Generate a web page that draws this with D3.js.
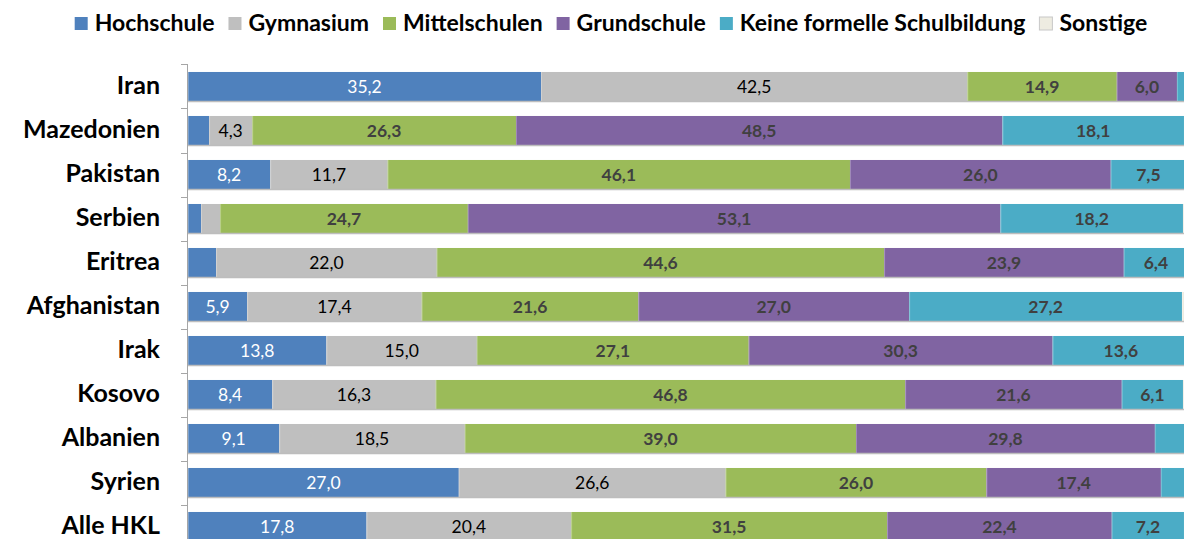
<!DOCTYPE html>
<html>
<head>
<meta charset="utf-8">
<script src="https://cdn.jsdelivr.net/npm/d3@7"></script>
<style>
  body { margin: 0; background: #fff; }
  svg { display: block; font-family: Lato, "Open Sans", sans-serif; }
</style>
</head>
<body>
<svg id="chart"></svg>
<script>
var width = 1184, height = 539;

// data, in percent
var countries = ["Iran", "Mazedonien", "Pakistan", "Serbien", "Eritrea", "Afghanistan",
  "Irak", "Kosovo", "Albanien", "Syrien", "Alle HKL"];
var levels = ["Hochschule", "Gymnasium", "Mittelschulen", "Grundschule",
  "Keine formelle Schulbildung", "Sonstige"];
var hochschule  = [35.2, 2.1, 8.2, 1.3, 2.8, 5.9, 13.8, 8.4, 9.1, 27.0, 17.8];
var gymnasium   = [42.5, 4.3, 11.7, 1.9, 22.0, 17.4, 15.0, 16.3, 18.5, 26.6, 20.4];
var mittel      = [14.9, 26.3, 46.1, 24.7, 44.6, 21.6, 27.1, 46.8, 39.0, 26.0, 31.5];
var grundschule = [6.0, 48.5, 26.0, 53.1, 23.9, 27.0, 30.3, 21.6, 29.8, 17.4, 22.4];
var keine       = [1.2, 18.1, 7.5, 18.2, 6.4, 27.2, 13.6, 6.1, 3.2, 2.5, 7.2];
var sonstige    = [0.2, 0.7, 0.5, 0.8, 0.3, 0.9, 0.2, 0.8, 0.4, 0.5, 0.7];

var series = [hochschule, gymnasium, mittel, grundschule, keine, sonstige];
var colors = ["#4F81BD", "#BFBFBF", "#9BBB59", "#8064A2", "#4BACC6", "#EEECE1"];
var labelColors = ["#ffffff", "#000000", "#404040", "#404040", "#404040", "#404040"];
var labelWeights = ["normal", "normal", "bold", "bold", "bold", "bold"];

var rows = countries.map(function(c, i) {
  var r = {country: c};
  levels.forEach(function(l, j) { r[l] = series[j][i]; });
  return r;
});

var svg = d3.select("#chart")
    .attr("width", width)
    .attr("height", height);

// the plot runs past the right edge, as in the picture
var x = d3.scaleLinear().domain([0, 100]).range([188, 1191]);
var y = d3.scaleBand().domain(countries).range([64.5, 548.5])
    .paddingInner(0.34).paddingOuter(0.17);

var stacked = d3.stack().keys(levels)(rows);

var fmt = function(v) { return d3.format(".1f")(v).replace(".", ","); };

var layer = svg.append("g").selectAll("g")
    .data(stacked)
    .enter().append("g")
    .attr("fill", function(d, i) { return colors[i]; });

layer.selectAll("rect")
    .data(function(d) { return d; })
    .enter().append("rect")
    .attr("x", function(d) { return x(d[0]); })
    .attr("y", function(d) { return y(d.data.country); })
    .attr("width", function(d) { return x(d[1]) - x(d[0]); })
    .attr("height", y.bandwidth());

// thin light seam between segments
layer.selectAll("line")
    .data(function(d) { return d; })
    .enter().append("line")
    .attr("x1", function(d) { return x(d[0]) + 0.5; })
    .attr("x2", function(d) { return x(d[0]) + 0.5; })
    .attr("y1", function(d) { return y(d.data.country); })
    .attr("y2", function(d) { return y(d.data.country) + y.bandwidth(); })
    .attr("stroke", "#ffffff")
    .attr("stroke-opacity", 0.25);

// bottom edge shadow line
svg.append("g").selectAll("line")
    .data(countries)
    .enter().append("line")
    .attr("x1", x(0)).attr("x2", x(100))
    .attr("y1", function(d) { return y(d) + y.bandwidth() + 0.5; })
    .attr("y2", function(d) { return y(d) + y.bandwidth() + 0.5; })
    .attr("stroke", "#bdbdbd")
    .attr("stroke-width", 1.5);

// value labels
layer.each(function(s, i) {
  d3.select(this).selectAll("text")
    .data(s.filter(function(d) { return d[1] - d[0] >= 4; }))
    .enter().append("text")
    .attr("x", function(d) { return (x(d[0]) + x(d[1])) / 2; })
    .attr("y", function(d) { return y(d.data.country) + y.bandwidth() / 2 + 6; })
    .attr("text-anchor", "middle")
    .attr("fill", labelColors[i])
    .attr("font-weight", labelWeights[i])
    .style("font-size", "17.5px")
    .text(function(d) { return fmt(d[1] - d[0]); });
});

// left axis with ticks between categories
var axis = svg.append("g");
axis.append("line")
    .attr("x1", 187.5).attr("x2", 187.5)
    .attr("y1", 64.5).attr("y2", height)
    .attr("stroke", "#a6a6a6");
var bounds = countries.map(function(c) { return y(c) - y.step() * y.paddingInner() / 2; });
axis.selectAll(".tick")
    .data(bounds)
    .enter().append("line")
    .attr("class", "tick")
    .attr("x1", 181).attr("x2", 188)
    .attr("y1", function(d) { return Math.round(d) + 0.5; })
    .attr("y2", function(d) { return Math.round(d) + 0.5; })
    .attr("stroke", "#a6a6a6");

axis.selectAll(".cat")
    .data(countries)
    .enter().append("text")
    .attr("class", "cat")
    .attr("x", 160)
    .attr("y", function(d) { return y(d) + y.bandwidth() / 2 + 7.5; })
    .attr("text-anchor", "end")
    .attr("font-weight", "bold")
    .style("font-size", "25px")
    .attr("fill", "#000")
    .text(function(d) { return d; });

// legend
var legend = svg.append("g");
var lx = 0;
levels.forEach(function(l, i) {
  var g = legend.append("g").attr("transform", "translate(" + lx + ",0)");
  g.append("rect")
    .attr("x", 0).attr("y", 17)
    .attr("width", 13).attr("height", 13)
    .attr("fill", colors[i])
    .attr("stroke", i == 5 ? "#c8c8c8" : "none");
  var t = g.append("text")
    .attr("x", 20).attr("y", 31)
    .attr("font-weight", "bold")
    .style("font-size", "23px")
    .text(l);
  lx += 20 + t.node().getComputedTextLength() + 14;
});
legend.attr("transform", "translate(" + (611 - (lx - 14) / 2) + ",0)");
</script>
</body>
</html>
